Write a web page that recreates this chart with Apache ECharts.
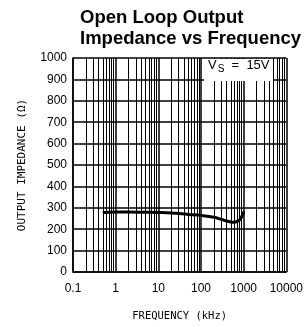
<!DOCTYPE html>
<html>
<head>
<meta charset="utf-8">
<script src="https://cdn.jsdelivr.net/npm/echarts@6/dist/echarts.min.js"></script>
<style>
  html, body { margin: 0; padding: 0; background: #fff; }
  #chart { width: 306px; height: 327px; }
</style>
</head>
<body>
<div id="chart"></div>
<script>
// curve
var freqKHz = [0.5, 1, 2, 5, 10, 20, 50, 100, 200, 300, 400, 500, 600, 700, 800, 900, 1000];
var impOhm  = [278, 280, 280, 279, 278, 276, 269, 264, 256, 246, 238, 234, 233, 236, 243, 258, 282];
var xTicks = [0.1, 1, 10, 100, 1000, 10000];
var yTicks = [0, 100, 200, 300, 400, 500, 600, 700, 800, 900, 1000];
var decades = [0.1, 1, 10, 100, 1000];
var minorMult = [2, 3, 4, 5, 6, 7, 8, 9];

var myChart = echarts.init(document.getElementById('chart'));

// minor log grid lines 2..9 in each decade
var minorLines = [];
for (var d = 0; d < decades.length; d++) {
    for (var m = 0; m < minorMult.length; m++) {
        minorLines.push({ xAxis: +(decades[d] * minorMult[m]).toPrecision(3) });
    }
}

var pts = [];
for (var i = 0; i < freqKHz.length; i++) pts.push([freqKHz[i], impOhm[i]]);

function xLabel(v) {
    for (var k = 0; k < xTicks.length; k++) {
        if (Math.abs(Math.log10(v) - Math.log10(xTicks[k])) < 1e-6) return String(xTicks[k]);
    }
    return '';
}

var option = {
    animation: false,
    title: {
        text: 'Open Loop Output\nImpedance vs Frequency',
        left: 75,
        top: 2,
        textStyle: {
            fontFamily: 'Liberation Sans',
            fontWeight: 'bold',
            fontSize: 18.5,
            lineHeight: 21,
            color: '#000'
        }
    },
    grid: { left: 73, right: 17, top: 58, bottom: 54 },
    xAxis: {
        type: 'log',
        logBase: 10,
        min: 0.1,
        max: 10000,
        name: 'FREQUENCY (kHz)',
        nameLocation: 'middle',
        nameGap: 39,
        nameTextStyle: { fontFamily: 'DejaVu Sans Mono', fontSize: 10.5, color: '#000' },
        axisLine: { show: true, lineStyle: { color: '#000', width: 1.5 } },
        axisTick: { show: false },
        axisLabel: {
            margin: 11,
            fontFamily: 'Liberation Sans',
            fontSize: 12,
            color: '#000',
            formatter: xLabel
        },
        splitLine: { show: true, lineStyle: { color: '#000', width: 1.5 } }
    },
    yAxis: {
        type: 'value',
        min: 0,
        max: 1000,
        interval: 100,
        name: 'OUTPUT IMPEDANCE (\u03A9)',
        nameLocation: 'middle',
        nameGap: 45,
        nameTextStyle: { fontFamily: 'DejaVu Sans Mono', fontSize: 11, color: '#000' },
        axisLine: { show: true, lineStyle: { color: '#000', width: 1.5 } },
        axisTick: { show: false },
        axisLabel: {
            margin: 6,
            fontFamily: 'Liberation Sans',
            fontSize: 12,
            color: '#000',
            formatter: function (v) { return yTicks.indexOf(v) >= 0 ? String(v) : ''; }
        },
        splitLine: { show: true, lineStyle: { color: '#000', width: 1.5 } }
    },
    graphic: [{
        type: 'rect',
        z: 100,
        shape: { x: 204, y: 59, width: 69, height: 22 },
        style: { fill: '#fff' }
    }, {
        type: 'text',
        z: 101,
        left: 208,
        top: 59,
        style: {
            text: '{v|V}{s|S}{v|  =  15V}',
            rich: {
                v: { fontFamily: 'Liberation Sans', fontSize: 13, fill: '#000' },
                s: { fontFamily: 'Liberation Sans', fontSize: 10, fill: '#000', padding: [8, 0, 0, 1] }
            }
        }
    }],
    series: [{
        type: 'line',
        data: pts,
        smooth: 0.4,
        showSymbol: false,
        lineStyle: { color: '#000', width: 3 },
        z: 5,
        markLine: {
            silent: true,
            symbol: ['none', 'none'],
            label: { show: false },
            lineStyle: { color: '#000', width: 1, type: 'solid' },
            data: minorLines
        }
    }]
};

myChart.setOption(option);
</script>
</body>
</html>
